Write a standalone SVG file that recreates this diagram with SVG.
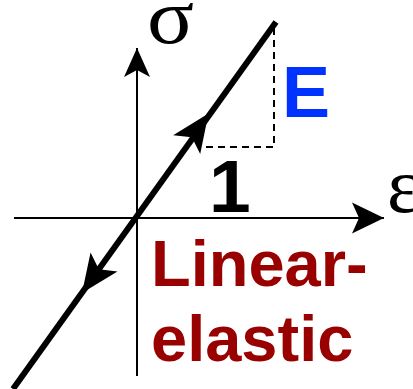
<svg xmlns="http://www.w3.org/2000/svg" width="413" height="389" viewBox="0 0 413 389">
  <style>
    .axis { stroke: #000; stroke-width: 2; fill: none; }
    .curve { stroke: #000; stroke-width: 6; fill: none; }
    .guide { stroke: none; fill: none; }
    .dash { stroke: #000; stroke-width: 2; fill: none; stroke-dasharray: 7 5; }
    .sym { font-family: "Liberation Serif", "Times New Roman", serif; font-size: 78px; fill: #000; }
    .bold { font-family: "Liberation Sans", Arial, sans-serif; font-weight: bold; }
  </style>
  <defs>
    <marker id="axv" markerUnits="userSpaceOnUse" markerWidth="1" markerHeight="1" refX="0" refY="0" orient="auto" overflow="visible">
      <path d="M0,0 L-29,-13 L-22,0 L-29,13 Z" fill="#000"/>
    </marker>
    <marker id="axh" markerUnits="userSpaceOnUse" markerWidth="1" markerHeight="1" refX="0" refY="0" orient="auto" overflow="visible">
      <path d="M0,0 L-32,-15.5 L-25,0 L-32,15.5 Z" fill="#000"/>
    </marker>
    <marker id="cv" markerUnits="userSpaceOnUse" markerWidth="1" markerHeight="1" refX="0" refY="0" orient="auto" overflow="visible">
      <path d="M0,0 L-38,-16.5 L-29,0 L-38,16.5 Z" fill="#000"/>
    </marker>
  </defs>
  <rect width="413" height="389" fill="#fff"/>
  <g id="connectors">
    <line class="axis" x1="137" y1="376" x2="137" y2="48" marker-end="url(#axv)"/>
    <line class="axis" x1="14" y1="218" x2="384" y2="218" marker-end="url(#axh)"/>
    <line class="curve" x1="13" y1="389" x2="276" y2="22"/>
    <line class="guide" x1="136" y1="217" x2="208.5" y2="113.5" marker-end="url(#cv)"/>
    <line class="guide" x1="136" y1="217" x2="82" y2="293" marker-end="url(#cv)"/>
    <path class="dash" d="M274,28 V147 H197"/>
  </g>
  <g id="sigma"><text class="sym" transform="translate(147,43) scale(1.12,1)">σ</text></g>
  <g id="epsilon"><text class="sym" x="387" y="212">ε</text></g>
  <g id="E"><text class="bold" x="282" y="117" font-size="72" fill="#0033ff">E</text></g>
  <g id="one"><text class="bold" x="209" y="212" font-size="75" fill="#000">1</text></g>
  <g id="label">
    <text class="bold" x="151" y="286" font-size="65" fill="#990000">Linear-</text>
    <text class="bold" x="151" y="361" font-size="65" fill="#990000">elastic</text>
  </g>
</svg>
